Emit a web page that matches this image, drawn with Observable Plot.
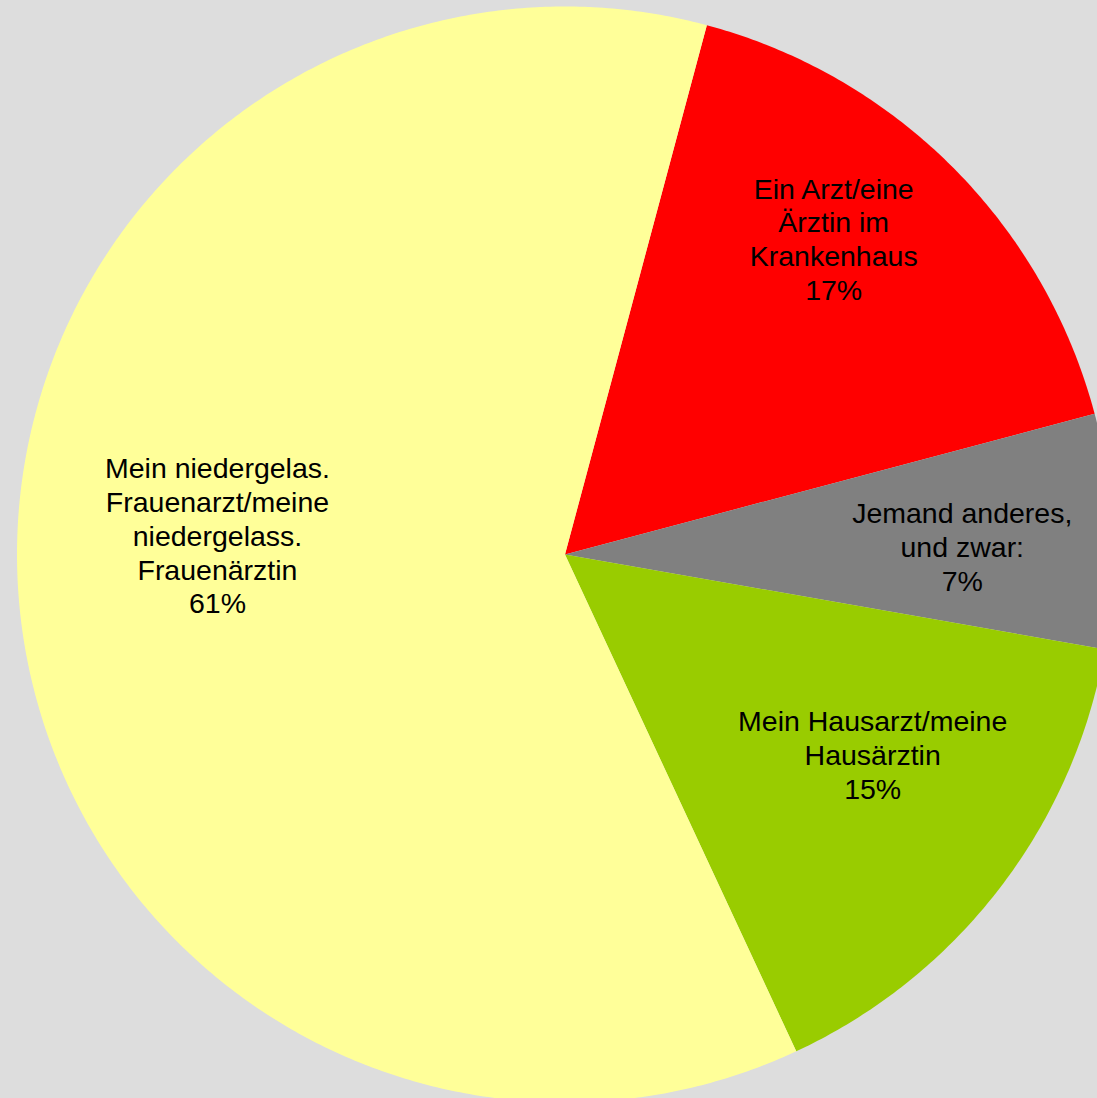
<!DOCTYPE html>
<html>
<head>
<meta charset="utf-8">
<script src="https://cdn.jsdelivr.net/npm/d3@7"></script>
<script src="https://cdn.jsdelivr.net/npm/@observablehq/plot@0.6"></script>
<style>
  html, body { margin: 0; padding: 0; background: #dddddd; overflow: hidden; }
  #chart svg { display: block; }
</style>
</head>
<body>
<div id="chart"></div>
<script>
// ---- data ----
const categories = [
  "Ein Arzt/eine\nÄrztin im\nKrankenhaus",
  "Jemand anderes,\nund zwar:",
  "Mein Hausarzt/meine\nHausärztin",
  "Mein niedergelas.\nFrauenarzt/meine\nniedergelass.\nFrauenärztin"
];
const values = [16.7, 6.9, 15.3, 61.1];
const percentLabels = ["17%", "7%", "15%", "61%"];
const colors = ["#ff0000", "#808080", "#99cc00", "#ffff99"];

// ---- layout (not data) ----
const W = 1097, H = 1098;
const cx = 564.5, cy = 554, R = 548;          // pie centre/radius in px
const startDeg = 15;                          // first slice starts here (clockwise from 12 o'clock)
const labelAngleShift = [-4.5, 1.6, -4.3, 7.9]; // degrees, relative to slice mid-angle
const labelRadius = [0.754, 0.725, 0.671, 0.635];

const rad = d => d * Math.PI / 180;
const pie = d3.pie().sort(null).value(d => d)
  .startAngle(rad(startDeg)).endAngle(rad(startDeg) + 2 * Math.PI);
const arcs = pie(values);

// slice polygons in unit coordinates (y up)
const slicePts = [];
arcs.forEach((a, i) => {
  const key = categories[i];
  slicePts.push({key, x: 0, y: 0});
  const n = Math.max(8, Math.ceil((a.endAngle - a.startAngle) / rad(0.5)));
  for (let k = 0; k <= n; k++) {
    const t = a.startAngle + (a.endAngle - a.startAngle) * k / n;
    slicePts.push({key, x: Math.sin(t), y: Math.cos(t)});
  }
});

const labels = arcs.map((a, i) => {
  const mid = (a.startAngle + a.endAngle) / 2 + rad(labelAngleShift[i]);
  return {
    text: categories[i] + "\n" + percentLabels[i],
    x: labelRadius[i] * Math.sin(mid),
    y: labelRadius[i] * Math.cos(mid)
  };
});

const chart = Plot.plot({
  width: W,
  height: H,
  margin: 0,
  style: {background: "#dddddd", overflow: "hidden"},
  x: {domain: [-cx / R, (W - cx) / R], axis: null},
  y: {domain: [-(H - cy) / R, cy / R], axis: null},
  color: {domain: categories, range: colors},
  marks: [
    Plot.line(slicePts, {
      x: "x", y: "y", z: "key", fill: "key", stroke: "none",
      curve: "linear-closed"
    }),
    Plot.text(labels, {
      x: "x", y: "y", text: "text",
      fontSize: 28.5,
      lineHeight: 1.19,
      fontFamily: "Arial, 'Liberation Sans', sans-serif",
      fill: "#000000",
      textAnchor: "middle",
      lineAnchor: "middle",
      dy: -2
    })
  ]
});
document.getElementById("chart").appendChild(chart);
</script>
</body>
</html>
